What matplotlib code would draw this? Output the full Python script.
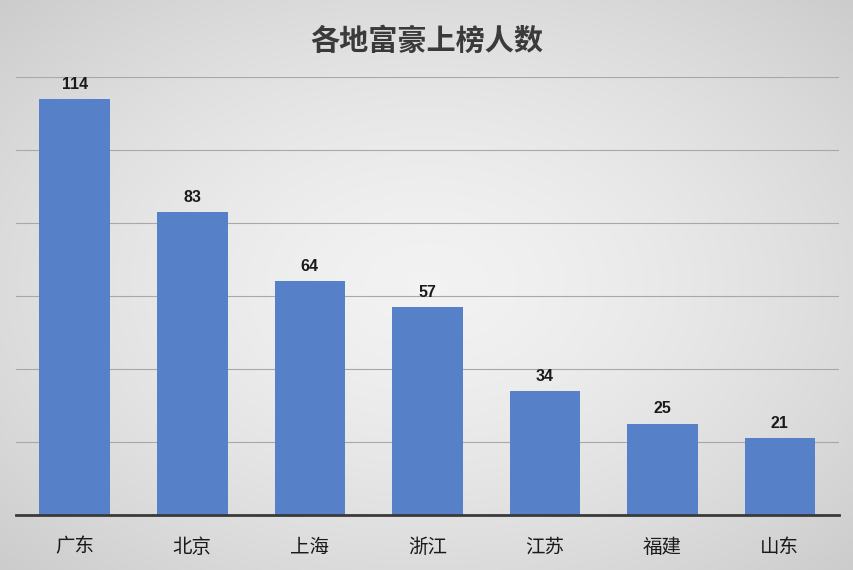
import numpy as np
import matplotlib.pyplot as plt

plt.rcParams['font.family'] = ['Noto Sans CJK SC', 'DejaVu Sans']

regions = ["广东", "北京", "上海", "浙江", "江苏", "福建", "山东"]
counts = [114, 83, 64, 57, 34, 25, 21]

fig = plt.figure(figsize=(8.54, 5.70), dpi=100)

# radial gradient background
bg = fig.add_axes([0, 0, 1, 1], zorder=0)
yy, xx = np.mgrid[-1:1:300j, -1:1:450j]
r = np.sqrt(xx ** 2 + yy ** 2) / np.sqrt(2)
shade = 0.95 - 0.15 * r ** 1.5
bg.imshow(np.dstack([shade] * 3), aspect="auto", extent=[0, 1, 0, 1])
bg.axis("off")

ax = fig.add_axes([0.0187, 0.0965, 0.9633, 0.7685], zorder=1)
ax.patch.set_alpha(0)

x = np.arange(len(regions))
bars = ax.bar(x, counts, width=0.6, color="#5681c9", zorder=2)
for b, v in zip(bars, counts):
    ax.text(b.get_x() + b.get_width() / 2, v + 2, str(v), ha="center", va="bottom",
            fontsize=11.5, fontweight="bold", color="#1a1a1a",
            family=["Liberation Sans", "DejaVu Sans"])

ax.set_xlim(-0.5, len(regions) - 0.5)
ax.set_ylim(0, 120)
ax.set_yticks(range(0, 121, 20))
ax.yaxis.grid(True, color="#a8a8a8", linewidth=0.8, zorder=0)
ax.set_axisbelow(True)
ax.tick_params(axis="y", left=False, labelleft=False)
ax.tick_params(axis="x", bottom=False, labelsize=14, pad=12)
ax.set_xticks(x)
ax.set_xticklabels(regions, color="#1a1a1a")
for s in ["top", "left", "right"]:
    ax.spines[s].set_visible(False)
ax.spines["bottom"].set_color("#3a3a3a")
ax.spines["bottom"].set_linewidth(2)

fig.text(0.5, 0.928, "各地富豪上榜人数", ha="center", va="center",
         fontsize=21, fontweight="bold", color="#3a3a3a")

fig.savefig("out.png", dpi=100)
